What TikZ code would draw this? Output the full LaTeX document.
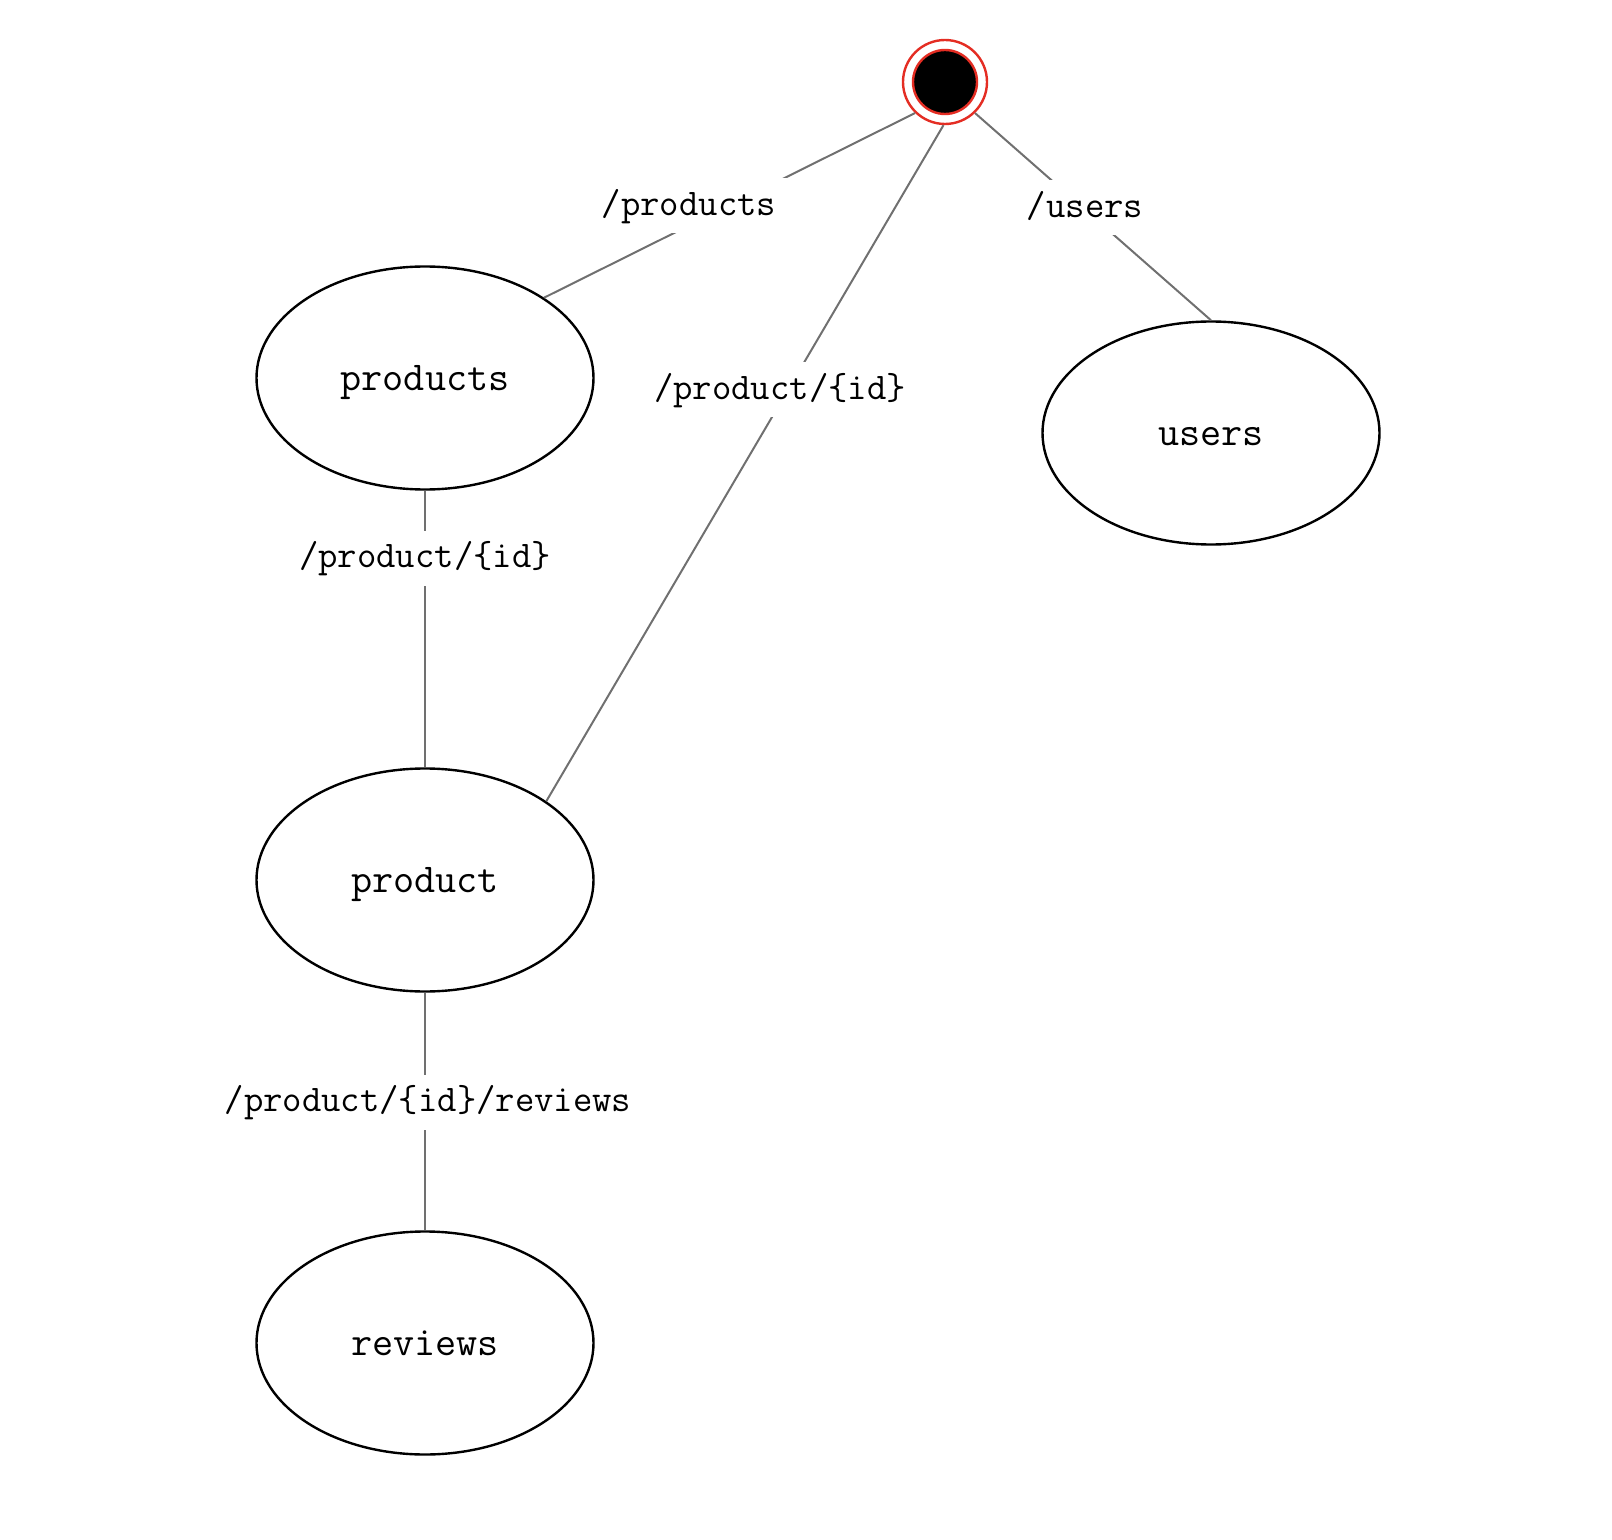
\documentclass[tikz,border=0pt]{standalone}
\usetikzlibrary{shapes.geometric}
\definecolor{startred}{RGB}{228,45,35}
\definecolor{edgegray}{RGB}{112,112,112}

\begin{document}
\begin{tikzpicture}[x=0.5pt, y=-0.5pt,
    res/.style={draw=black, line width=1.2pt, ellipse, minimum width=168.5pt,
      minimum height=111.5pt, inner sep=0pt, text height=17pt, text depth=4.5pt,
      font=\ttfamily\fontsize{20.5}{22}\selectfont},
    startnode/.style={circle, draw=startred, line width=1.2pt, fill=white,
      minimum size=42pt, inner sep=0pt},
    route/.style={draw=edgegray, line width=1pt},
    lbl/.style={fill=white, inner xsep=6pt, inner ysep=5pt, text height=13.5pt,
      text depth=4pt, font=\ttfamily\fontsize{18.8}{20}\selectfont}]
  \useasboundingbox (0,0) rectangle (1612,1540);
  \node[startnode] (start) at (945,82) {};
  \fill[black, draw=startred, line width=1.2pt] (start.center) circle (16pt);
  \node[res] (products) at (425,378) {products};
  \node[res] (users) at (1211,433) {users};
  \node[res] (product) at (425,880) {product};
  \node[res] (reviews) at (425,1343) {reviews};

  \draw[route] (start.226) -- (products.34);
  \draw[route] (start.-46) -- (users.north);
  \draw[route] (start.-92) -- (product.33);
  \draw[route] (products.south) -- (product.north);
  \draw[route] (product.south) -- (reviews.north);

  \node[lbl] (l1) at (689,206) {/products};
  \node[lbl] (l2) at (1085,208) {/users};
  \node[lbl] (l3) at (780,390) {/product/\{id\}};
  \node[lbl] (l4) at (425,558) {/product/\{id\}};
  \node[lbl] (l5) at (428,1102) {/product/\{id\}/reviews};
\end{tikzpicture}
\end{document}
